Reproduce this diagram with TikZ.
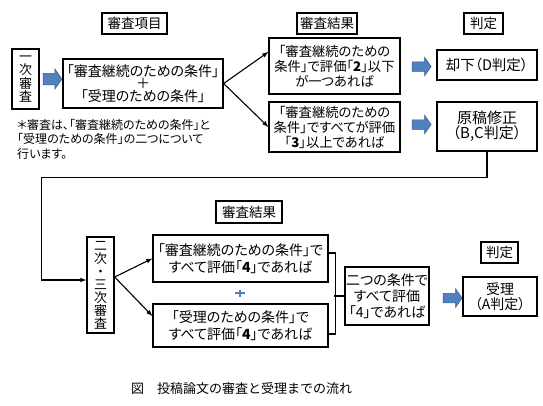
\documentclass[tikz,border=0pt]{standalone}
\usepackage{fontspec}
\setmainfont{Noto Sans CJK JP}[RawFeature=+palt]
\newfontfamily\plainjp{Noto Sans CJK JP}
\usetikzlibrary{shapes.arrows}
\definecolor{flowblue}{HTML}{4F81BD}
\definecolor{flowblueline}{HTML}{3A5F8B}
\newcommand\jpsize[2]{\fontsize{#1}{#2}\selectfont\lineskiplimit-1000pt\relax}

\begin{document}
\begin{tikzpicture}[
      x=1pt, y=-1pt,
      every node/.style={font=\jpsize{14}{15}},
      type-head/.style={rectangle, draw, line width=1.3pt, inner sep=0pt, font=\jpsize{13.5}{15}},
      type-box/.style={rectangle, draw, line width=1.3pt, align=center, inner sep=0pt},
      type-tall/.style={type-box, inner ysep=3pt},
      type-fat/.style={single arrow, fill=flowblue, draw=flowblueline, line width=0.5pt,
        inner xsep=0pt, inner ysep=4.5pt, minimum height=19pt,
        single arrow head extend=4.5pt, single arrow tip angle=110},
      type-link/.style={-latex, line width=1.1pt}
    ]
      \useasboundingbox (0,0) rectangle (543,405);

      % headings
      \node[type-head, minimum width=65pt, minimum height=21pt] (head-item) at (134.5,23.5) {審査項目};
      \node[type-head, minimum width=60pt, minimum height=21pt] (head-result) at (327,23.5) {審査結果};
      \node[type-head, minimum width=39pt, minimum height=21pt] (head-judge) at (483.5,23.5) {判定};
      \node[type-head, minimum width=66pt, minimum height=22pt] (head-result2) at (249,212) {審査結果};
      \node[type-head, minimum width=37pt, minimum height=21pt] (head-judge2) at (499.5,252.5) {判定};

      % first review
      \node[type-tall, minimum width=27pt, minimum height=60pt, font=\jpsize{13}{13.5}] (first) at (25.5,79)
        {一\\次\\審\\査};
      \node[type-fat, inner ysep=5.5pt] (fat-first) at (50.5,79) {};
      \node[type-box, minimum width=160pt, minimum height=49pt, font=\jpsize{14}{12.5}] (items) at (143,83.5)
        {「審査継続のための条件」\\＋\\「受理のための条件」};
      \node[anchor=north west, align=left, inner sep=0pt, font=\jpsize{12}{14.5}] (note) at (17,119)
        {＊審査は、「審査継続のための条件」と\\「受理のための条件」の二つについて\\行います。};

      \node[type-box, minimum width=131pt, minimum height=56pt, font=\jpsize{13.3}{15}] (res-low) at (334.5,66)
        {「審査継続のための\\条件」で評価「\textbf{2}」以下\\が一つあれば};
      \node[type-box, minimum width=131pt, minimum height=50pt, font=\jpsize{13.3}{15}] (res-mid) at (334.5,127)
        {「審査継続のための\\条件」ですべてが評価\\「\textbf{3}」以上であれば};
      \node[type-fat] (fat-reject) at (420,66.5) {};
      \node[type-fat] (fat-revise) at (420,124.5) {};
      \node[type-box, minimum width=100pt, minimum height=30pt, font=\jpsize{14.5}{15}] (reject) at (487,65)
        {却下（D判定）};
      \node[type-box, minimum width=100pt, minimum height=49pt, font=\jpsize{15}{15}] (revise) at (487,126.5)
        {原稿修正\\（B,C判定）};

      \draw[type-link] (items.east) -- ([yshift=14pt]res-low.west);
      \draw[type-link] (items.east) -- (res-mid.west);

      % second and third review
      \node[type-tall, minimum width=27pt, minimum height=96pt, font=\jpsize{13}{13}] (second) at (100.5,285)
        {二\\次\\・\\三\\次\\審\\査};
      \draw[type-link] (revise.south) -- ++(0,26) -| ([xshift=-45pt,yshift=5pt]second.west)
        -- ([yshift=5pt]second.west);

      \node[type-box, minimum width=175pt, minimum height=47pt, font=\jpsize{14}{16.5}] (cond-keep) at (240.5,258.5)
        {「審査継続のための条件」で\\すべて評価「\textbf{4}」であれば};
      \node[type-box, minimum width=175pt, minimum height=43pt, font=\jpsize{14}{16.5}] (cond-accept) at (240.5,325.5)
        {「受理のための条件」で\\すべて評価「\textbf{4}」であれば};
      \draw[flowblue, line width=2.5pt] (235,293) -- (245,293) (240,289.5) -- (240,296.5);

      \draw[type-link] ([yshift=8pt]second.east) -- (cond-keep.west);
      \draw[type-link] ([yshift=8pt]second.east) -- ([yshift=9.5pt]cond-accept.west);

      \node[type-box, minimum width=84pt, minimum height=58pt, font=\jpsize{14}{16}] (both) at (387,296)
        {二つの条件で\\すべて評価\\「4」であれば};
      \draw[line width=1.3pt] ([yshift=5.5pt]cond-keep.east) -- ++(7,0) -- ++(0,81)
        -- ([yshift=-8.5pt]cond-accept.east);
      \draw[line width=1.3pt] (both.west) -- ++(-10,0);

      \node[type-fat] (fat-accept) at (451,298) {};
      \node[type-box, minimum width=74pt, minimum height=39pt, font=\jpsize{14}{15}] (accept) at (500,296.5)
        {受理\\（A判定）};

      \node[font=\plainjp\jpsize{13}{15}] (caption) at (241.5,389) {図　投稿論文の審査と受理までの流れ};
    \end{tikzpicture}
\end{document}
